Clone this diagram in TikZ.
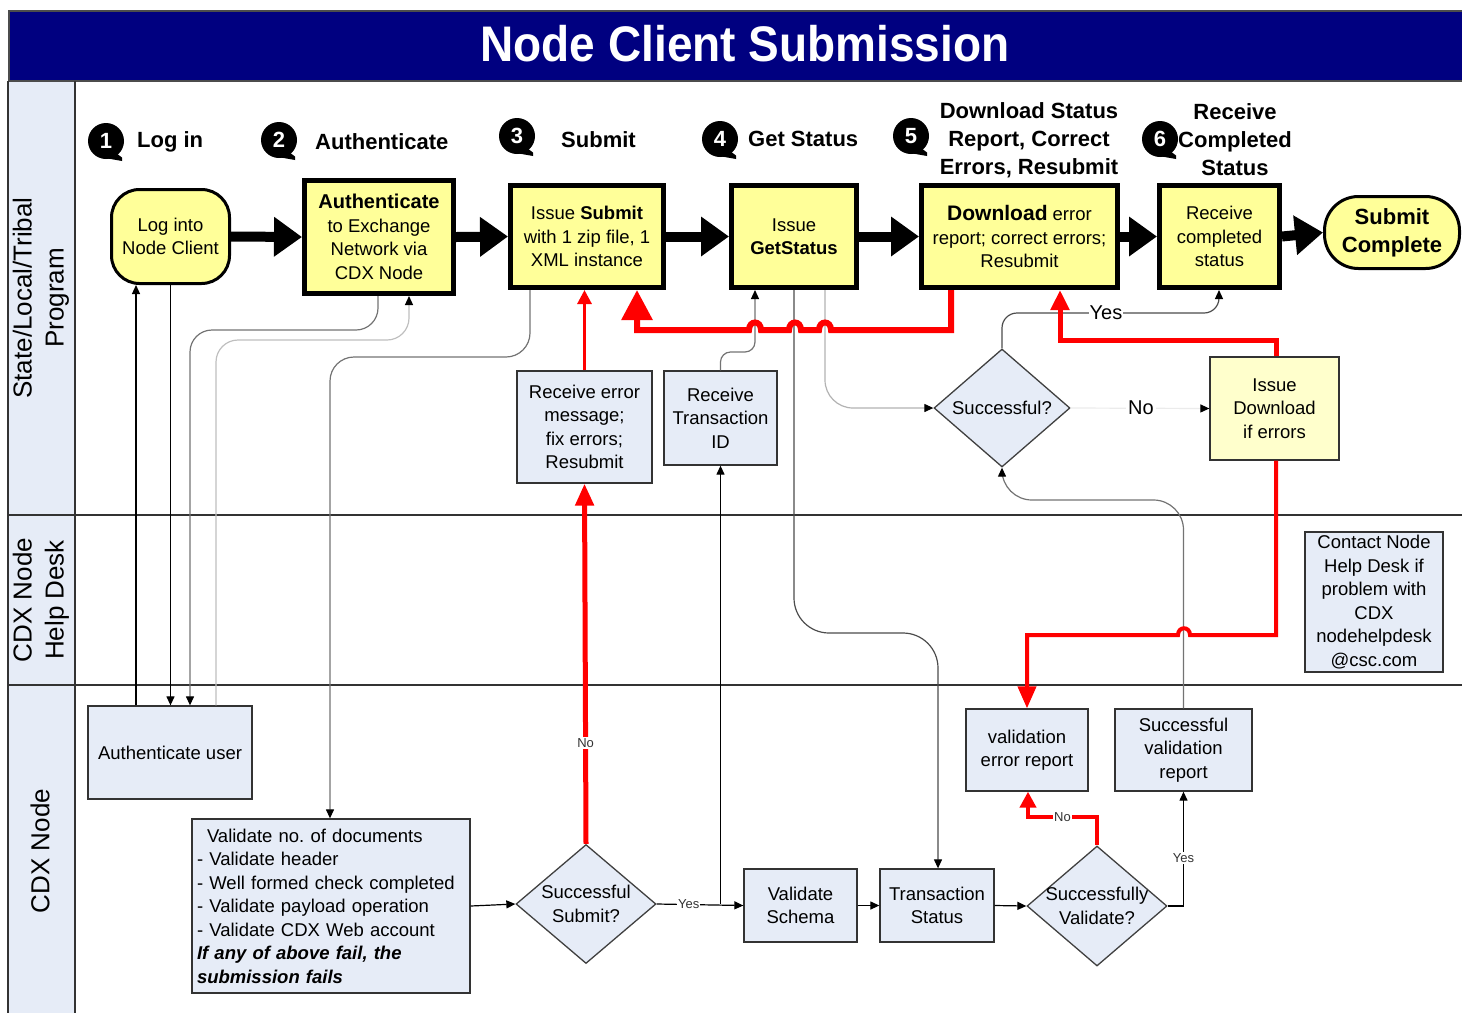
\documentclass[tikz,border=0pt]{standalone}
\usepackage{fontspec}
\setmainfont{Liberation Sans}
\usetikzlibrary{arrows.meta,shapes.geometric}
\definecolor{navy}{RGB}{0,0,128}
\definecolor{ylw}{RGB}{255,255,153}
\definecolor{lylw}{RGB}{255,255,204}
\definecolor{lb}{RGB}{230,236,247}
\newcommand{\stepnumber}[4]{%
  \fill (#2-1,#3+17) -- (#2+16,#3+20) -- (#2+16,#3+16.5) -- (#2+10,#3+12) -- cycle;
  \node[numc] (#1) at (#2,#3) {#4};}
\begin{document}
\begin{tikzpicture}[x=1pt,y=-1pt,
  txt/.style={font=\fontsize{18.5}{23.5}\selectfont, align=center, inner sep=0pt},
  ybox/.style={draw=black, fill=ylw, line width=5pt, inner sep=0pt, font=\fontsize{18.5}{23.5}\selectfont, align=center},
  bbox/.style={draw=black!80, fill=lb, line width=1.3pt, inner sep=0pt, font=\fontsize{18.5}{23.5}\selectfont, align=center},
  diam/.style={diamond, draw=black!75, fill=lb, line width=1.3pt, inner sep=0pt},
  numc/.style={circle, fill=black, text=white, inner sep=0pt, minimum size=36pt, font=\fontsize{22}{22}\selectfont\bfseries},
  steplbl/.style={font=\fontsize{22}{28}\selectfont\bfseries, align=center, inner sep=0pt},
  bigarr/.style={line width=10pt, -{Triangle[length=28pt,width=38pt]}},
  arr/.style={draw=black, line width=1.2pt, -{Triangle[length=9pt,width=8pt]}},
  garr/.style={draw=black!55, line width=1.2pt, -{Triangle[length=9pt,width=8pt,color=black]}},
  lbl/.style={fill=white, inner sep=1pt, font=\fontsize{13}{13}\selectfont, text=black!80},
  redl/.style={draw=red, line join=miter}
]
\useasboundingbox (0,0) rectangle (1462,1013);
% title
\node[fill=navy, draw=black!70, line width=1.5pt, minimum width=1454pt, minimum height=70pt, anchor=north west, inner sep=0pt] (titlebar) at (8,10) {};
\node[text=white, font=\fontsize{50}{50}\selectfont\bfseries, inner sep=0pt] (title) at (745,44) {\scalebox{0.92}[1]{Node Client Submission}};
% lanes
\fill[lb] (8,82) rectangle (75,1013);
\draw[black!80, line width=1.5pt] (8,81) -- (8,1013);
\draw[black!80, line width=1.5pt] (75,81) -- (75,1013);
\draw[black!80, line width=1.5pt] (8,515) -- (1462,515);
\draw[black!80, line width=1.5pt] (8,685) -- (1462,685);
\node[rotate=90, font=\fontsize{26}{32}\selectfont, align=center, inner sep=0pt] (lane1) at (41,298) {State/Local/Tribal\\Program};
\node[rotate=90, font=\fontsize{26}{32}\selectfont, align=center, inner sep=0pt] (lane2) at (41,600) {CDX Node\\Help Desk};
\node[rotate=90, font=\fontsize{26}{32}\selectfont, align=center, inner sep=0pt] (lane3) at (40,851) {CDX Node};
% step headings
\stepnumber{n1}{106}{141}{1}
\stepnumber{n2}{279}{140}{2}
\stepnumber{n3}{517}{136}{3}
\stepnumber{n4}{720}{139}{4}
\stepnumber{n5}{911}{136}{5}
\stepnumber{n6}{1160}{139}{6}
\node[steplbl, anchor=west] (l1) at (137,142) {Log in};
\node[steplbl, anchor=west] (l2) at (315,142) {Authenticate};
\node[steplbl, anchor=west] (l3) at (561,140) {Submit};
\node[steplbl, anchor=west] (l4) at (748,139) {Get Status};
\node[steplbl] (l5) at (1029,140) {Download Status\\Report, Correct\\Errors, Resubmit};
\node[steplbl] (l6) at (1235,140) {Receive\\Completed\\Status};
% yellow boxes
\node[ybox, line width=3pt, rounded corners=28pt, minimum width=118pt, minimum height=94pt] (login) at (170.5,236.5) {Log into\\Node Client};
\node[ybox, minimum width=149pt, minimum height=113pt] (auth) at (379,237) {{\fontsize{20}{24}\selectfont\bfseries Authenticate}\\to Exchange\\Network via\\CDX Node};
\node[ybox, minimum width=153pt, minimum height=102pt] (submit) at (587,236.5) {Issue {\bfseries Submit}\\with 1 zip file, 1\\XML instance};
\node[ybox, minimum width=125pt, minimum height=102pt] (getst) at (794,236.5) {Issue\\{\bfseries GetStatus}};
\node[ybox, minimum width=196pt, minimum height=102pt] (dl) at (1019.5,236.5) {{\fontsize{21}{24}\selectfont\bfseries Download} error\\report; correct errors;\\Resubmit};
\node[ybox, minimum width=120pt, minimum height=102pt] (recv) at (1219.5,236.5) {Receive\\completed\\status};
\node[ybox, line width=3pt, rounded corners=34pt, minimum width=135pt, minimum height=72pt, font=\fontsize{22}{28}\selectfont\bfseries] (done) at (1392,232.5) {Submit\\Complete};
% thick arrows
\draw[bigarr] (login.east) -- (auth.west);
\draw[bigarr] (auth.east) -- (submit.west);
\draw[bigarr] (submit.east) -- (getst.west);
\draw[bigarr] (getst.east) -- (dl.west);
\draw[bigarr] (dl.east) -- (recv.west);
\draw[bigarr] (recv.east) -- (done.west);
% light boxes
\node[bbox, minimum width=135pt, minimum height=112pt] (recverr) at (584.5,427) {Receive error\\message;\\fix errors;\\Resubmit};
\node[bbox, minimum width=113pt, minimum height=94pt] (recvtid) at (720.5,418) {Receive\\Transaction\\ID};
\node[diam, minimum width=136pt, minimum height=118pt] (succ) at (1002,408) {};
\node[txt] (succt) at (succ) {Successful?};
\node[bbox, fill=lylw, minimum width=129pt, minimum height=103pt] (issuedl) at (1274.5,408.5) {Issue\\Download\\if errors};
\node[bbox, minimum width=138pt, minimum height=140pt] (contact) at (1374,602) {Contact Node\\Help Desk if\\problem with\\CDX\\nodehelpdesk\\@csc.com};
\node[bbox, minimum width=164pt, minimum height=93pt] (authuser) at (170,752.5) {Authenticate user};
\node[bbox, minimum width=278pt, minimum height=174pt, align=left, text width=268pt] (valdoc) at (331,906) {\hspace*{10pt}Validate no.\ of documents\\- Validate header\\- Well formed check completed\\- Validate payload operation\\- Validate CDX Web account\\{\bfseries\itshape If any of above fail, the}\\{\bfseries\itshape submission fails}};
\node[diam, minimum width=140pt, minimum height=119pt] (subq) at (586,904) {};
\node[txt] (subqt) at (subq) {Successful\\Submit?};
\node[bbox, minimum width=113pt, minimum height=73pt] (schema) at (800.5,905.5) {Validate\\Schema};
\node[bbox, minimum width=114pt, minimum height=73pt] (txst) at (937,905.5) {Transaction\\Status};
\node[diam, minimum width=140pt, minimum height=120pt] (valq) at (1097,906) {};
\node[txt] (valqt) at (valq) {Successfully\\Validate?};
\node[bbox, minimum width=122pt, minimum height=82pt] (valerr) at (1027,750) {validation\\error report};
\node[bbox, minimum width=137pt, minimum height=82pt] (valok) at (1183.5,750) {Successful\\validation\\report};
% thin connectors
\draw[arr] (authuser.north -| 136,0) -- (login.south -| 136,0);
\draw[arr] (login.south) -- (login.south |- authuser.north);
\draw[garr, rounded corners=22pt] (auth.south -| 378,0) -- (378,330) -- (190,330) -- (authuser.north -| 190,0);
\draw[garr, draw=black!25, rounded corners=22pt] (authuser.north -| 216,0) -- (216,340) -- (409,340) -- (auth.south -| 409,0);
\draw[garr, rounded corners=24pt] (submit.south -| 530,0) -- (530,357) -- (330,357) -- (valdoc.north -| 330,0);
\draw[garr, rounded corners=10pt] (recvtid.north) -- (720.5,352) -- (755,352) -- (getst.south -| 755,0);
\draw[arr] (valdoc.east) -- (subq.west);
\draw[arr] (subq.east) -- node[lbl, pos=0.37] (yes2) {Yes} (schema.west);
\draw[arr] (recvtid.south |- subq.east) -- (recvtid.south);
\draw[arr] (schema.east) -- (txst.west);
\draw[arr] (txst.east) -- (valq.west);
\draw[garr, draw=black!70, rounded corners=35pt] (getst.south) -- (794,633) -- (938,633) -- (txst.north -| 938,0);
\draw[garr, draw=black!30, rounded corners=28pt] (getst.south -| 825,0) -- (825,408) -- (succ.west);
\draw[garr, draw=black!70, rounded corners=15pt] (succ.north) -- (1002,313) -- (1219,313) -- (recv.south -| 1219,0);
\node[fill=white, inner sep=1pt, font=\fontsize{20}{20}\selectfont] (yes1) at (1106,313) {Yes};
\draw[garr, draw=black!8] (succ.east) -- (issuedl.west);
\node[fill=white, inner sep=2pt, font=\fontsize{20}{20}\selectfont] (no1) at (1141,408) {No};
\draw[garr, rounded corners=30pt] (valok.north) -- (1183.5,500) -- (1002,500) -- (succ.south);
\draw[arr] (valq.east) -| node[lbl, pos=0.71] (yes3) {Yes} (valok.south);
% red connectors
\draw[redl, line width=5pt, -{Triangle[length=22pt,width=18pt]}] (subq.north) -- node[lbl, pos=0.28] (no2) {No} (recverr.south);
\draw[redl, line width=3pt, -{Triangle[length=14pt,width=14pt]}] (recverr.north) -- (submit.south -| recverr.north);
\draw[redl, line width=6pt, -{Triangle[length=30pt,width=30pt]}] (dl.south -| 951,0) -- (951,330) -- (831,330) .. controls (831,320) and (819,320) .. (819,330) -- (801,330) .. controls (801,320) and (789,320) .. (789,330) -- (761,330) .. controls (761,320) and (749,320) .. (749,330) -- (637,330) -- (submit.south -| 637,0);
\draw[redl, line width=5pt, -{Triangle[length=20pt,width=18pt]}] (issuedl.north -| 1276,0) -- (1276,340) -- (1060,340) -- (dl.south -| 1060,0);
\draw[redl, line width=4pt, -{Triangle[length=22pt,width=18pt]}] (issuedl.south -| 1276,0) -- (1276,635) -- (1190,635) .. controls (1190,626) and (1178,626) .. (1178,635) -- (1027,635) -- (valerr.north);
\draw[redl, line width=4pt, -{Triangle[length=16pt,width=16pt]}] (valq.north) -- (1097,817) -- node[lbl] (no3) {No} (1028,817) -- (valerr.south -| 1028,0);
\end{tikzpicture}
\end{document}
